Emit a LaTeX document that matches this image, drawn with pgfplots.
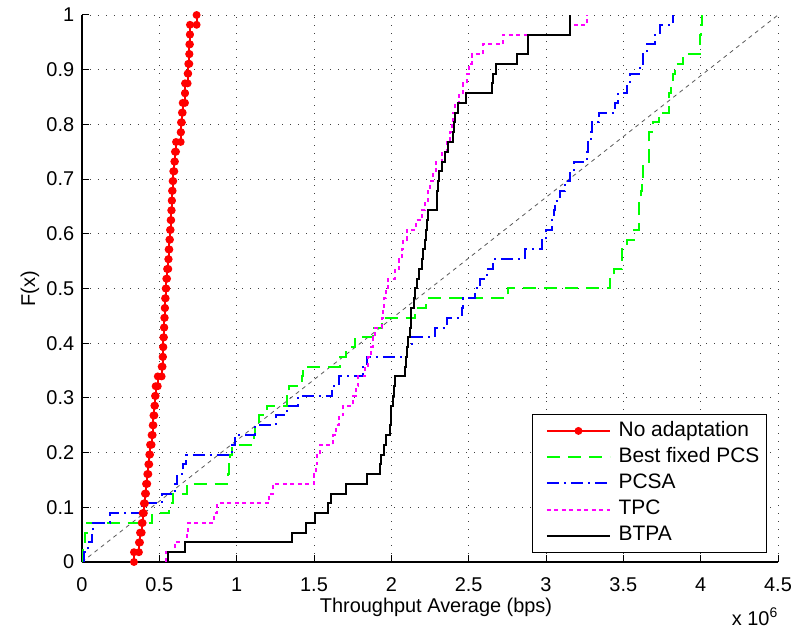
\documentclass[border=0pt]{standalone}
\usepackage{fontspec}
\setmainfont{Liberation Sans}
\usepackage{pgfplots}
\pgfplotsset{compat=1.18}
\definecolor{mred}{rgb}{1,0,0}
\definecolor{mgreen}{rgb}{0,1,0}
\definecolor{mblue}{rgb}{0,0,1}
\definecolor{mmag}{rgb}{1,0,1}
\begin{document}
\fontsize{20}{24}\selectfont
\begin{tikzpicture}
\begin{axis}[name=ax, scale only axis, width=696bp, height=547bp,
  xmin=0, xmax=4.5, ymin=0, ymax=1,
  xtick={0,0.5,1,1.5,2,2.5,3,3.5,4,4.5},
  ytick={0,0.1,0.2,0.3,0.4,0.5,0.6,0.7,0.8,0.9,1},
  axis lines=left, axis line style={-, line width=1.2bp, black},
  tick align=inside, major tick length=7bp, tick style={line width=1bp, black},
  grid=major, grid style={black!75, line width=0.9bp, dash pattern=on 1bp off 7bp},
  /pgf/number format/assume math mode=true,
  ticklabel style={font=\fontsize{20}{24}\selectfont},
  xticklabel style={yshift=-9bp}, yticklabel style={xshift=-1bp},
  clip=false,
  legend cell align=left,
  legend image code/.code={\path (0bp,0bp); \draw[mark repeat=2,mark phase=2,#1] plot coordinates {(6bp,0bp) (37.5bp,0bp) (69bp,0bp)};},
  legend style={at={(0.984,0.0165)}, anchor=south east, draw=black, line width=1bp, fill=white,
    font=\fontsize{21}{25}\selectfont, inner xsep=7bp, inner ysep=7bp, row sep=6.7bp,
    nodes={inner sep=0pt, text height=15bp, text depth=4.5bp},
    /tikz/every odd column/.append style={column sep=7.7bp}},
]
\addplot[forget plot, black!65, line width=0.8bp, dash pattern=on 4bp off 4bp] coordinates {(0,0) (4.5,1)};

\addplot[mred, line width=2bp, mark=*, mark size=2.9bp, mark options={solid, fill=mred, draw=mred}] coordinates {
(0.336,0) (0.336,0.0179) (0.368,0.0179) (0.368,0.0357) (0.375,0.0357) (0.375,0.0536)
(0.386,0.0536) (0.386,0.0714) (0.392,0.0714) (0.392,0.0893) (0.400,0.0893) (0.400,0.1071)
(0.407,0.1071) (0.407,0.125) (0.414,0.125) (0.414,0.1429) (0.422,0.1429) (0.422,0.1607)
(0.429,0.1607) (0.429,0.1786) (0.435,0.1786) (0.435,0.1964) (0.440,0.1964) (0.440,0.2143)
(0.450,0.2143) (0.450,0.2321) (0.457,0.2321) (0.457,0.25) (0.462,0.25) (0.462,0.2679)
(0.468,0.2679) (0.468,0.2857) (0.472,0.2857) (0.472,0.3036) (0.476,0.3036) (0.476,0.3214)
(0.490,0.3214) (0.490,0.3393) (0.515,0.3393) (0.515,0.3571) (0.521,0.3571) (0.521,0.375)
(0.524,0.375) (0.524,0.3929) (0.526,0.3929) (0.526,0.4107) (0.530,0.4107) (0.530,0.4286)
(0.532,0.4286) (0.532,0.4464) (0.535,0.4464) (0.535,0.4643) (0.537,0.4643) (0.537,0.4821)
(0.541,0.4821) (0.541,0.5) (0.545,0.5) (0.545,0.5179) (0.550,0.5179) (0.550,0.5357)
(0.558,0.5357) (0.558,0.5536) (0.560,0.5536) (0.560,0.5714) (0.565,0.5714) (0.565,0.5893)
(0.569,0.5893) (0.569,0.6071) (0.573,0.6071) (0.573,0.625) (0.577,0.625) (0.577,0.6429)
(0.580,0.6429) (0.580,0.6607) (0.582,0.6607) (0.582,0.6786) (0.586,0.6786) (0.586,0.6964)
(0.590,0.6964) (0.590,0.7143) (0.597,0.7143) (0.597,0.7321) (0.601,0.7321) (0.601,0.75)
(0.608,0.75) (0.608,0.7679) (0.638,0.7679) (0.638,0.7857) (0.640,0.7857) (0.640,0.8036)
(0.646,0.8036) (0.646,0.8214) (0.651,0.8214) (0.651,0.8393) (0.666,0.8393) (0.666,0.8571)
(0.666,0.8571) (0.666,0.875) (0.683,0.875) (0.683,0.8929) (0.687,0.8929) (0.687,0.9107)
(0.694,0.9107) (0.694,0.9286) (0.694,0.9286) (0.694,0.9464) (0.698,0.9464) (0.698,0.9643)
(0.698,0.9643) (0.698,0.9821) (0.741,0.9821) (0.741,1)
};
\addlegendentry{No adaptation}

\addplot[const plot mark left, mgreen, line width=2bp, dash pattern=on 13bp off 8bp] coordinates {
(0.005,0) (0.005,0.0357) (0.02,0.0536) (0.03,0.0714) (0.455,0.0893) (0.565,0.1071) (0.59,0.125)
(0.677,0.1429) (0.942,0.1607) (0.95,0.1786) (0.96,0.1964) (0.972,0.2143) (1.11,0.2321) (1.12,0.25)
(1.145,0.2679) (1.194,0.2857) (1.323,0.3036) (1.34,0.3214) (1.42,0.3393) (1.43,0.3571) (1.668,0.375)
(1.71,0.3929) (1.765,0.4107) (1.883,0.4286) (1.937,0.4464) (2.15,0.4643) (2.224,0.4821) (2.756,0.5)
(3.413,0.5179) (3.441,0.5357) (3.489,0.5714) (3.521,0.5893) (3.57,0.6071) (3.60,0.6607) (3.615,0.6786)
(3.62,0.6964) (3.63,0.7321) (3.667,0.7857) (3.693,0.8036) (3.732,0.8214) (3.797,0.8571) (3.81,0.875)
(3.82,0.8929) (3.835,0.9107) (3.883,0.9286) (3.995,0.9643) (4.0,0.9821) (4.01,1)
};
\addlegendentry{Best fixed PCS}

\addplot[const plot mark left, mblue, line width=2bp, dash pattern=on 12bp off 5bp on 2bp off 5bp] coordinates {
(0.013,0) (0.013,0.0179) (0.041,0.0357) (0.063,0.0536) (0.073,0.0714) (0.181,0.0893) (0.386,0.1071)
(0.515,0.125) (0.601,0.1429) (0.612,0.1607) (0.655,0.1786) (0.672,0.1964) (0.967,0.2143) (0.989,0.2321)
(1.118,0.25) (1.255,0.2679) (1.323,0.2857) (1.398,0.3036) (1.614,0.3214) (1.66,0.3393) (1.82,0.3571)
(1.84,0.375) (2.099,0.3929) (2.131,0.4107) (2.282,0.4286) (2.357,0.4464) (2.454,0.4643) (2.465,0.4821)
(2.54,0.5) (2.573,0.5179) (2.616,0.5357) (2.659,0.5536) (2.864,0.5714) (2.971,0.5893) (3.003,0.6071)
(3.036,0.625) (3.05,0.6429) (3.06,0.6607) (3.09,0.6786) (3.12,0.6964) (3.155,0.7143) (3.18,0.7321)
(3.262,0.75) (3.27,0.7679) (3.29,0.7857) (3.30,0.8036) (3.34,0.8214) (3.445,0.8393) (3.467,0.8571)
(3.525,0.875) (3.54,0.8929) (3.607,0.9107) (3.63,0.9286) (3.65,0.9464) (3.704,0.9643) (3.735,0.9821) (3.822,1)
};
\addlegendentry{PCSA}

\addplot[const plot mark left, mmag, line width=2bp, dash pattern=on 4bp off 3.5bp] coordinates {
(0.543,0) (0.543,0.0179) (0.601,0.0357) (0.677,0.0536) (0.687,0.0714) (0.853,0.0893) (0.871,0.1071)
(1.211,0.125) (1.237,0.1429) (1.50,0.1607) (1.51,0.1786) (1.52,0.1964) (1.539,0.2143) (1.625,0.2321)
(1.64,0.25) (1.66,0.2679) (1.69,0.2857) (1.754,0.3036) (1.77,0.3214) (1.786,0.3393) (1.83,0.3571)
(1.85,0.375) (1.87,0.3929) (1.88,0.4107) (1.894,0.4286) (1.937,0.4464) (1.945,0.4643) (1.955,0.4821)
(1.965,0.5) (1.98,0.5179) (2.023,0.5357) (2.05,0.5536) (2.07,0.5714) (2.077,0.5893) (2.099,0.6071)
(2.16,0.625) (2.20,0.6429) (2.22,0.6607) (2.24,0.6786) (2.25,0.6964) (2.27,0.7143) (2.29,0.7321)
(2.33,0.75) (2.357,0.7679) (2.38,0.7857) (2.39,0.8036) (2.40,0.8214) (2.41,0.8393) (2.44,0.8571)
(2.465,0.875) (2.487,0.8929) (2.50,0.9107) (2.52,0.9286) (2.59,0.9464) (2.72,0.9643) (3.155,0.9821) (3.262,1)
};
\addlegendentry{TPC}

\addplot[const plot mark left, black, line width=2bp] coordinates {
(0.558,0) (0.558,0.0179) (0.666,0.0357) (1.355,0.0536) (1.448,0.0714) (1.506,0.0893) (1.592,0.1071)
(1.61,0.125) (1.71,0.1429) (1.84,0.1607) (1.926,0.1786) (1.935,0.1964) (1.95,0.2143) (1.965,0.2321)
(1.99,0.25) (1.995,0.2679) (2.0,0.2857) (2.008,0.3036) (2.015,0.3214) (2.023,0.3393) (2.088,0.3571)
(2.095,0.375) (2.10,0.3929) (2.11,0.4107) (2.12,0.4286) (2.125,0.4464) (2.13,0.4643) (2.145,0.4821)
(2.155,0.5) (2.165,0.5179) (2.18,0.5357) (2.196,0.5536) (2.205,0.5714) (2.22,0.5893) (2.225,0.6071)
(2.232,0.625) (2.24,0.6429) (2.293,0.6607) (2.296,0.6786) (2.30,0.6964) (2.31,0.7143) (2.33,0.7321)
(2.35,0.75) (2.368,0.7679) (2.40,0.7857) (2.402,0.8036) (2.41,0.8214) (2.433,0.8393) (2.48,0.8571)
(2.648,0.875) (2.66,0.8929) (2.676,0.9107) (2.814,0.9286) (2.885,0.9643) (3.158,1)
};
\addlegendentry{BTPA}
\end{axis}
\node[rotate=90] at ([xshift=-52bp]ax.west) {F(x)};
\node at ([xshift=6bp,yshift=-45bp]ax.south) {Throughput Average (bps)};
\node[anchor=base east, inner sep=0pt] at ([yshift=-63bp]ax.south east) {x 10\textsuperscript{6}};
\pgfresetboundingbox
\path[use as bounding box] ([shift={(-82bp,-68bp)}]ax.south west) rectangle ([shift={(17bp,15bp)}]ax.north east);
\end{tikzpicture}
\end{document}
